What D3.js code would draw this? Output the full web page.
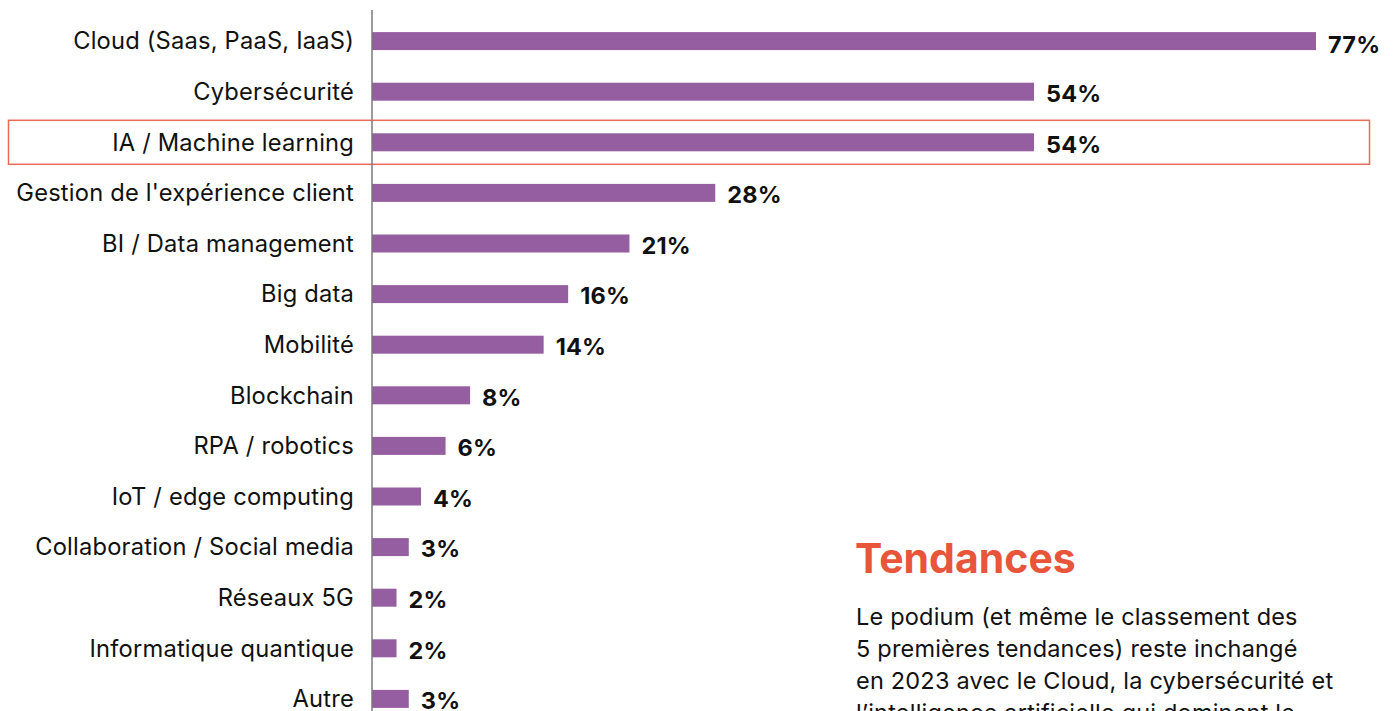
<!DOCTYPE html>
<html>
<head>
<meta charset="utf-8">
<script src="https://cdn.jsdelivr.net/npm/d3@7"></script>
<style>
  html, body { margin: 0; padding: 0; background: #fff; overflow: hidden; }
  svg { display: block; font-family: Inter, "Noto Sans", sans-serif; }
</style>
</head>
<body>
<svg id="chart" width="1393" height="711"></svg>
<script>
// chart data
const categories = [
    'Cloud (Saas, PaaS, IaaS)',
    'Cybersécurité',
    'IA / Machine learning',
    "Gestion de l'expérience client",
    'BI / Data management',
    'Big data',
    'Mobilité',
    'Blockchain',
    'RPA / robotics',
    'IoT / edge computing',
    'Collaboration / Social media',
    'Réseaux 5G',
    'Informatique quantique',
    'Autre'
];
const values = [77, 54, 54, 28, 21, 16, 14, 8, 6, 4, 3, 2, 2, 3];
const highlighted = ['IA / Machine learning'];

const titleText = 'Tendances';
const bodyLines = [
    'Le podium (et même le classement des',
    '5 premières tendances) reste inchangé',
    'en 2023 avec le Cloud, la cybersécurité et',
    'l’intelligence artificielle qui dominent le'
];

const svg = d3.select('#chart');
const width = +svg.attr('width');
const height = +svg.attr('height');
const axisX = 372;
const barH = 18;

const data = categories.map((c, i) => ({ name: c, value: values[i] }));

const xScale = d3.scaleLinear()
    .domain([0, 77])
    .range([axisX, 1316]);

const yScale = d3.scaleBand()
    .domain(categories)
    .range([15.8, 15.8 + categories.length * 50.6])
    .padding(0);

const center = d => yScale(d) + yScale.bandwidth() / 2;

// highlight box
svg.selectAll('.hl')
    .data(highlighted)
    .enter().append('rect')
    .attr('class', 'hl')
    .attr('x', 8.5)
    .attr('y', d => center(d) - 22)
    .attr('width', 1361)
    .attr('height', 44)
    .attr('fill', 'none')
    .attr('stroke', '#ef6a55')
    .attr('stroke-width', 1.5);

// bars
svg.selectAll('.bar')
    .data(data)
    .enter().append('rect')
    .attr('class', 'bar')
    .attr('x', xScale(0))
    .attr('y', d => center(d.name) - barH / 2)
    .attr('width', d => xScale(d.value) - xScale(0))
    .attr('height', barH)
    .attr('fill', '#955ea0');

// axis line
svg.append('line')
    .attr('x1', axisX).attr('x2', axisX)
    .attr('y1', 10).attr('y2', height)
    .attr('stroke', '#7a7a7a')
    .attr('stroke-width', 1.5);

// category labels
svg.selectAll('.cat')
    .data(data)
    .enter().append('text')
    .attr('class', 'cat')
    .attr('x', 354)
    .attr('y', d => center(d.name))
    .attr('dy', '0.35em')
    .attr('text-anchor', 'end')
    .attr('font-size', 23.7)
    .attr('letter-spacing', 0.2)
    .attr('fill', '#111')
    .text(d => d.name);

// value labels
svg.selectAll('.val')
    .data(data)
    .enter().append('text')
    .attr('class', 'val')
    .attr('x', d => xScale(d.value) + 12)
    .attr('y', d => center(d.name) + (d.value > 70 ? 4 : 2))
    .attr('dy', '0.35em')
    .attr('font-size', 23.5)
    .attr('font-weight', 700)
    .attr('letter-spacing', 0.2)
    .attr('fill', '#111')
    .text(d => d.value + '%');

// side text
svg.append('text')
    .attr('x', 855)
    .attr('y', 573)
    .attr('font-size', 41)
    .attr('font-weight', 700)
    .attr('fill', '#e8553b')
    .text(titleText);

svg.selectAll('.body')
    .data(bodyLines)
    .enter().append('text')
    .attr('class', 'body')
    .attr('x', 856)
    .attr('y', (d, i) => 625 + i * 32)
    .attr('font-size', 23.5)
    .attr('letter-spacing', 0.2)
    .attr('fill', '#111')
    .text(d => d);
</script>
</body>
</html>
